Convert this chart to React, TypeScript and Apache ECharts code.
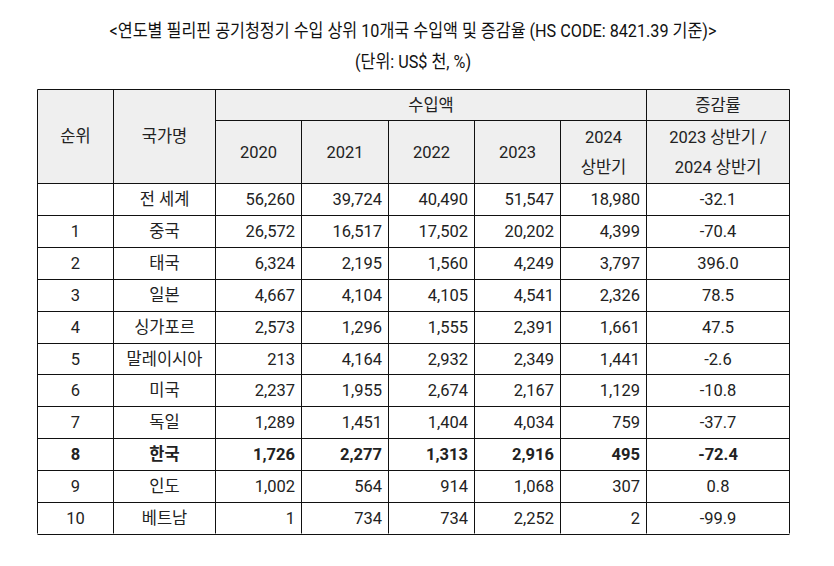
import React, { useEffect, useRef } from "react";
import * as echarts from "echarts";

const title = "<연도별 필리핀 공기청정기 수입 상위 10개국 수입액 및 증감율 (HS CODE: 8421.39 기준)>";
const unit = "(단위: US$ 천, %)";
const yearHeaders = ["2020", "2021", "2022", "2023", "2024\n상반기"];
const changeHeader = "2023 상반기 /\n2024 상반기";
const ranks = ["", "1", "2", "3", "4", "5", "6", "7", "8", "9", "10"];
const countries = ["전 세계", "중국", "태국", "일본", "싱가포르", "말레이시아", "미국", "독일", "한국", "인도", "베트남"];
const v2020 = ["56,260", "26,572", "6,324", "4,667", "2,573", "213", "2,237", "1,289", "1,726", "1,002", "1"];
const v2021 = ["39,724", "16,517", "2,195", "4,104", "1,296", "4,164", "1,955", "1,451", "2,277", "564", "734"];
const v2022 = ["40,490", "17,502", "1,560", "4,105", "1,555", "2,932", "2,674", "1,404", "1,313", "914", "734"];
const v2023 = ["51,547", "20,202", "4,249", "4,541", "2,391", "2,349", "2,167", "4,034", "2,916", "1,068", "2,252"];
const v2024h1 = ["18,980", "4,399", "3,797", "2,326", "1,661", "1,441", "1,129", "759", "495", "307", "2"];
const changeRate = ["-32.1", "-70.4", "396.0", "78.5", "47.5", "-2.6", "-10.8", "-37.7", "-72.4", "0.8", "-99.9"];
const boldCountry = "한국";

export default function App() {
  const ref = useRef<HTMLDivElement>(null);
  useEffect(() => {
    if (!ref.current) return;
    const chart = echarts.init(ref.current, undefined, { renderer: "svg" });
    const FONT = "Roboto, 'Noto Sans CJK KR', sans-serif";
    const TXT = "#222";
    const colX = [37.5, 113.5, 215.5, 301.5, 388.5, 474.5, 560.5, 646.5, 789.5];
    const top = 89.5, mid = 120.5, hb = 183.5, bottom = 533.5;
    const n = countries.length;
    const rh = (bottom - hb) / n;
    const els: any[] = [];
    els.push({ type: "rect", shape: { x: colX[0], y: top, width: colX[8] - colX[0], height: hb - top }, style: { fill: "#efefef" }, silent: true });
    const line = (x1: number, y1: number, x2: number, y2: number) =>
      els.push({ type: "line", shape: { x1, y1, x2, y2 }, style: { stroke: "#111", lineWidth: 1 }, silent: true });
    const text = (t: string, x: number, y: number, align: string, bold = false, size = 16.5, lh = 30) =>
      els.push({
        type: "text",
        x, y,
        style: { text: t, fill: TXT, fontFamily: FONT, fontSize: size, fontWeight: bold ? "bold" : "normal", align, verticalAlign: "middle", lineHeight: lh },
        silent: true,
      });
    line(colX[0], top, colX[8], top);
    line(colX[2], mid, colX[8], mid);
    line(colX[0], hb, colX[8], hb);
    for (let i = 1; i <= n; i++) {
      const y = Math.round(hb + rh * i) + 0.5;
      line(colX[0], y, colX[8], y);
    }
    [0, 1, 2, 7, 8].forEach((i) => line(colX[i], top, colX[i], bottom));
    [3, 4, 5, 6].forEach((i) => line(colX[i], mid, colX[i], bottom));
    els.push({ type: "text", x: 413, y: 31, scaleX: 0.9, style: { text: title, fill: "#111", fontFamily: FONT, fontSize: 18, align: "center", verticalAlign: "middle" }, silent: true });
    els.push({ type: "text", x: 413, y: 62, scaleX: 0.9, style: { text: unit, fill: "#111", fontFamily: FONT, fontSize: 18, align: "center", verticalAlign: "middle" }, silent: true });
    const cx = (i: number) => (colX[i] + colX[i + 1]) / 2;
    text("순위", cx(0), 136, "center");
    text("국가명", cx(1), 136, "center");
    text("수입액", (colX[2] + colX[7]) / 2, 105, "center");
    text("증감률", cx(7), 105, "center");
    yearHeaders.forEach((h, i) => text(h, cx(2 + i), 152, "center"));
    text(changeHeader, cx(7), 152, "center");
    const valueCols = [v2020, v2021, v2022, v2023, v2024h1];
    for (let r = 0; r < n; r++) {
      const y = hb + rh * (r + 0.5) + 0.5;
      const b = countries[r] === boldCountry;
      text(ranks[r], cx(0), y, "center", b);
      text(countries[r], cx(1), y, "center", b);
      valueCols.forEach((col, c) => text(col[r], colX[3 + c] - 6.5, y, "right", b));
      text(changeRate[r], cx(7), y, "center", b);
    }
    chart.setOption({ animation: false, graphic: { elements: els } });
    return () => chart.dispose();
  }, []);
  return <div ref={ref} style={{ position: "absolute", left: 0, top: 0, width: 834, height: 566, background: "#fff" }} />;
}
